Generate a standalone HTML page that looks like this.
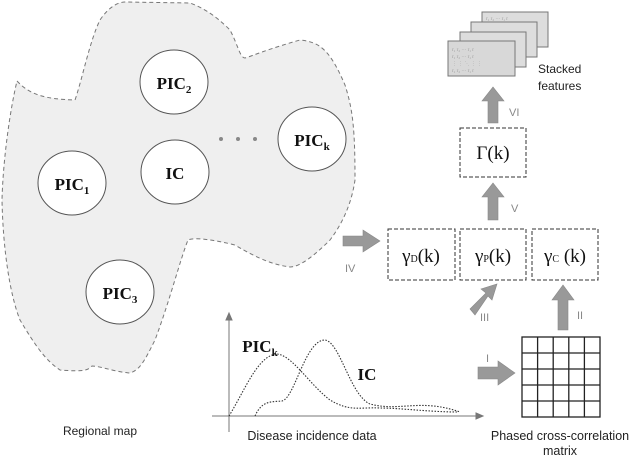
<!DOCTYPE html>
<html><head><meta charset="utf-8"><style>
html,body{margin:0;padding:0;background:#fff}
svg{display:block}
.s{font-family:"Liberation Sans","DejaVu Sans",sans-serif}
.r{font-family:"Liberation Serif",serif;font-weight:bold}
</style></head><body>
<svg width="640" height="457" viewBox="0 0 640 457" xmlns="http://www.w3.org/2000/svg">
<path d="M17,81 C30,95 45,99 75,100 C82,80 90,40 100,20 C110,5 120,2 125,2 L190,3 C210,10 225,25 230,30 C238,45 240,58 245,58 C255,55 265,50 300,40 C320,42 330,50 345,85 C353,110 355,130 355,180 C352,200 345,220 330,240 C315,255 300,267 290,267 C275,265 260,260 235,245 C215,240 195,237 188,240 C180,260 170,300 155,340 C145,360 140,370 130,373 C115,372 100,366 92,366 C88,370 85,372 60,370 C45,360 35,345 20,320 C10,295 3,250 2,200 C3,160 10,110 17,81 Z" fill="#efefef" stroke="#777" stroke-width="1" stroke-dasharray="4,3"/>
<g fill="#fff" stroke="#555" stroke-width="1">
<ellipse cx="174" cy="82" rx="34" ry="32"/>
<ellipse cx="175" cy="172" rx="34" ry="32"/>
<ellipse cx="72" cy="183" rx="34" ry="32"/>
<ellipse cx="312" cy="139" rx="34" ry="32"/>
<ellipse cx="120" cy="292" rx="34" ry="32"/>
</g>
<g fill="#888"><circle cx="221" cy="139" r="2"/><circle cx="238" cy="139" r="2"/><circle cx="255" cy="139" r="2"/></g>
<g class="r" font-size="17" fill="#111" text-anchor="middle">
<text x="174" y="89">PIC<tspan font-size="11" dy="4">2</tspan></text>
<text x="175" y="179">IC</text>
<text x="72" y="190">PIC<tspan font-size="11" dy="4">1</tspan></text>
<text x="312" y="146">PIC<tspan font-size="11" dy="4">k</tspan></text>
<text x="120" y="299">PIC<tspan font-size="11" dy="4">3</tspan></text>
<text x="260" y="352">PIC<tspan font-size="11" dy="4">k</tspan></text>
<text x="367" y="380">IC</text>
</g>
<text class="s" x="100" y="435" font-size="12" text-anchor="middle" fill="#222">Regional map</text>
<text class="s" x="312" y="440" font-size="12.5" text-anchor="middle" fill="#222">Disease incidence data</text>
<text class="s" x="560" y="440" font-size="12.5" text-anchor="middle" fill="#222">Phased cross-correlation</text>
<text class="s" x="560" y="455" font-size="12.5" text-anchor="middle" fill="#222">matrix</text>
<text class="s" x="538" y="73" font-size="12" fill="#222">Stacked</text>
<text class="s" x="538" y="90" font-size="12" fill="#222">features</text>
<!-- chart -->
<g stroke="#777" stroke-width="1" fill="#777">
<line x1="229" y1="432" x2="229" y2="318"/><path d="M226,320 L229,313 L232,320Z"/>
<line x1="212" y1="416" x2="478" y2="416"/><path d="M476,413 L483,416 L476,419Z"/>
</g>
<g fill="none" stroke="#333" stroke-width="1.1" stroke-dasharray="1.5,1.5">
<path d="M229,416 C245,390 258,355 277,354 C292,355 310,385 330,400 C350,412 360,407 380,408 C400,408 430,412 458,412"/>
<path d="M255,416 C262,400 272,402 282,401 C295,398 305,340 325,340 C340,342 350,395 370,404 C400,412 420,398 460,412"/>
</g>
<!-- matrix -->
<g stroke="#222" stroke-width="1.3" fill="#fff">
<rect x="522" y="337" width="78" height="80"/>
<line x1="537.6" y1="337" x2="537.6" y2="417"/><line x1="553.2" y1="337" x2="553.2" y2="417"/><line x1="568.8" y1="337" x2="568.8" y2="417"/><line x1="584.4" y1="337" x2="584.4" y2="417"/>
<line x1="522" y1="353" x2="600" y2="353"/><line x1="522" y1="369" x2="600" y2="369"/><line x1="522" y1="385" x2="600" y2="385"/><line x1="522" y1="401" x2="600" y2="401"/>
</g>
<!-- boxes -->
<g fill="#fff" stroke="#333" stroke-width="1" stroke-dasharray="4,2">
<rect x="388" y="229" width="67" height="51"/>
<rect x="460" y="229" width="66" height="51"/>
<rect x="532" y="229" width="66" height="51"/>
<rect x="460" y="128" width="66" height="49"/>
</g>
<g font-family="Liberation Serif,serif" font-size="19" fill="#111" text-anchor="middle">
<text x="421" y="262">γ<tspan font-size="10">D</tspan>(k)</text>
<text x="493" y="262">γ<tspan font-size="10">P</tspan>(k)</text>
<text x="565" y="262">γ<tspan font-size="10">C</tspan> (k)</text>
<text x="493" y="159">Γ(k)</text>
</g>
<!-- arrows -->
<g fill="#999" stroke="#888" stroke-width="0.6">
<path d="M343,236 L363,236 L363,230 L380,241 L363,252 L363,246 L343,246Z"/>
<path d="M478,367 L498,367 L498,361 L515,373 L498,385 L498,379 L478,379Z"/>
<path d="M558,330 L558,300 L552,300 L563,285 L574,300 L568,300 L568,330Z"/>
<path d="M470,309 L486,293 L481,289 L497,284 L492,300 L488,296 L475,315Z"/>
<path d="M488,220 L488,197 L482,197 L493,183 L504,197 L498,197 L498,220Z"/>
<path d="M488,123 L488,101 L482,101 L493,87 L504,101 L498,101 L498,123Z"/>
</g>
<g class="s" font-size="11" fill="#888">
<text x="345" y="272">IV</text><text x="486" y="362">I</text><text x="577" y="319">II</text>
<text x="480" y="321">III</text><text x="511" y="212">V</text><text x="509" y="116">VI</text>
</g>
<!-- stacked cards -->
<g stroke="#777" stroke-width="1">
<rect x="482" y="12" width="66" height="35" fill="#ddd"/>
<rect x="471" y="22" width="66" height="35" fill="#ddd"/>
<rect x="460" y="32" width="66" height="35" fill="#ddd"/>
<rect x="448" y="41" width="67" height="35" fill="#d8d8d8"/>
</g>
<g font-size="5" fill="#999" font-family="Liberation Serif,serif">
<text x="452" y="51">r₁ r₂ ⋯ r₁ r</text><text x="452" y="58">r₁ r₂ ⋯ r₁ r</text><text x="452" y="65">⋮ ⋮ ⋱ ⋮ ⋮</text><text x="452" y="72">r₁ r₂ ⋯ r₁ r</text>
<text x="486" y="20">r₁ r₂ ⋯ r₁ r</text>
</g>
</svg>
</body></html>
